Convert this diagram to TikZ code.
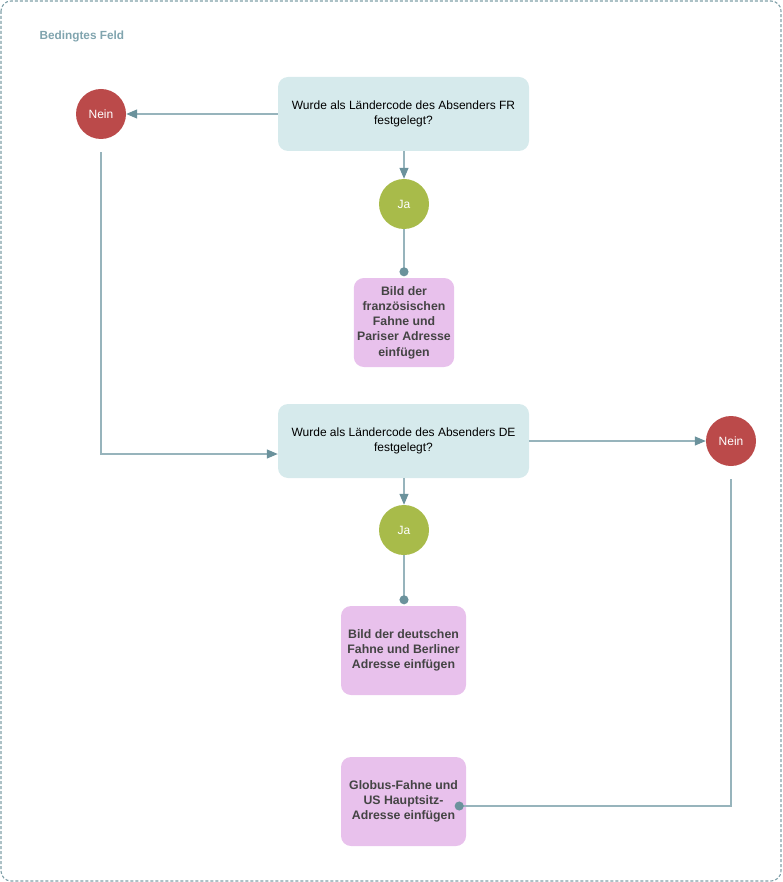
\documentclass[tikz,border=0pt]{standalone}
\usepackage{fontspec}
\setmainfont{Liberation Sans}
\usetikzlibrary{calc, arrows.meta, positioning}

\definecolor{framecol}{HTML}{7F9FA8}
\definecolor{titlecol}{HTML}{80A4AE}
\definecolor{qfill}{HTML}{D6EAEC}
\definecolor{neinfill}{HTML}{BB4A4A}
\definecolor{jafill}{HTML}{A8BB4A}
\definecolor{actfill}{HTML}{E8C1EC}
\definecolor{linecol}{HTML}{97B4BC}
\definecolor{tipcol}{HTML}{6B929C}
\definecolor{acttext}{HTML}{444444}

\begin{document}
\begin{tikzpicture}[x=1pt,y=-1pt,
    question/.style={rectangle, rounded corners=10pt, fill=qfill, minimum width=251pt, minimum height=74pt, align=center, font=\fontsize{12}{15}\selectfont},
    answer/.style={circle, minimum size=50pt, inner sep=0pt, text=white, font=\fontsize{12}{14}\selectfont},
    nein/.style={answer, fill=neinfill},
    ja/.style={answer, fill=jafill},
    action/.style={rectangle, rounded corners=10pt, fill=actfill, minimum height=89pt, align=center, text=acttext, font=\bfseries\fontsize{12.3}{15.25}\selectfont},
    flow/.style={draw=linecol, line width=1.2pt, -{Triangle[length=11pt,width=9pt,color=tipcol]}},
    link/.style={draw=linecol, line width=1.2pt, -{Circle[length=9pt,color=tipcol]}}]
    \useasboundingbox (0,0) rectangle (782,882);
    \draw[framecol, line width=1.1pt, dash pattern=on 3pt off 2pt, rounded corners=10pt] (1,1) rectangle (781,881);
    \node[anchor=west, text=titlecol, font=\bfseries\fontsize{11.8}{13}\selectfont] (title) at (36,36) {Bedingtes Feld};

    % erste Frage
    \node[question] (q1) at (403.5,114) {Wurde als Ländercode des Absenders FR\\festgelegt?};
    \node[nein] (nein1) at (101,114) {Nein};
    \node[ja] (ja1) at (404,204) {Ja};
    \node[action, minimum width=100pt] (bild1) at (404,322.5) {Bild der\\französischen\\Fahne und\\Pariser Adresse\\einfügen};

    % zweite Frage
    \node[question] (q2) at (403.5,441) {Wurde als Ländercode des Absenders DE\\festgelegt?};
    \node[nein] (nein2) at (731,441) {Nein};
    \node[ja] (ja2) at (404,530) {Ja};
    \node[action, minimum width=125pt] (bild2) at (403.5,650.5) {Bild der deutschen\\Fahne und Berliner\\Adresse einfügen};
    \node[action, minimum width=125pt] (bild3) at (403.5,801.5) {Globus-Fahne und\\US Hauptsitz-\\Adresse einfügen};

    \coordinate (n1out) at ($(nein1.south)+(0,13)$);
    \coordinate (n2out) at ($(nein2.south)+(0,13)$);
    \coordinate (q2in) at ($(q2.west)+(0,13)$);
    \coordinate (b3in) at ($(bild3.east)+(-11.5,4.5)$);

    \draw[flow] (q1.west) -- (nein1.east);
    \draw[flow] (q2.east) -- (nein2.west);
    \foreach \q/\j/\b in {q1/ja1/bild1, q2/ja2/bild2}{
        \draw[flow] (\q.south -| \j) -- (\j.north);
        \draw[link, shorten >=1.5pt] (\j.south) -- (\j.south |- \b.north);
    }
    \draw[flow] (n1out) |- (q2in);
    \draw[link] (n2out) |- (b3in);
\end{tikzpicture}
\end{document}
